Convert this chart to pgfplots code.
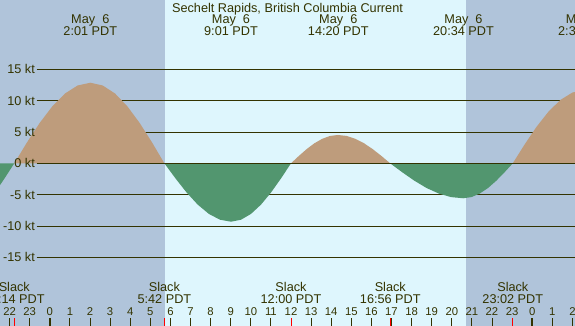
\documentclass[border=0pt]{standalone}
\usepackage{pgfplots}
\pgfplotsset{compat=1.18}
\usepackage{fontspec}
\setmainfont{Liberation Sans}
\definecolor{night}{RGB}{176,196,218}
\definecolor{day}{RGB}{222,246,253}
\definecolor{flood}{RGB}{190,156,124}
\definecolor{ebb}{RGB}{82,150,111}
\definecolor{ink}{RGB}{51,51,0}
\begin{document}
\begin{tikzpicture}[x=1pt,y=1pt]
\useasboundingbox (0,0) rectangle (575,326);
\clip (0,0) rectangle (575,326);
\begin{axis}[
 at={(0,0)}, anchor=south west, scale only axis, width=575pt, height=326pt,
 xmin=-2.478, xmax=26.13, ymin=-25.96, ymax=26.06,
 axis line style={draw=none}, axis on top,
 ytick=\empty, xtick={-2,-1,...,26},
 xticklabels={22,23,0,1,2,3,4,5,6,7,8,9,10,11,12,13,14,15,16,17,18,19,20,21,22,23,0,1,2},
 xtick pos=left, tick align=inside, major tick length=8pt,
 major tick style={ink, line width=0.9pt},
 xticklabel style={anchor=base, yshift=10.3pt, text=ink, font=\fontsize{11.3}{12}\selectfont, inner sep=0pt},
 extra x ticks={-1.767,5.7,12,16.933,23.033}, extra x tick labels={},
 extra x tick style={major tick style={red, line width=1pt}},
]
% backgrounds
\fill[night] (axis cs:-3,-27) rectangle (axis cs:5.73,27);
\fill[day] (axis cs:5.73,-27) rectangle (axis cs:20.70,27);
\fill[night] (axis cs:20.70,-27) rectangle (axis cs:27,27);
% grid lines
\addplot[ink, line width=0.9pt] coordinates {(-0.652,15) (26.5,15)};
\addplot[ink, line width=0.9pt] coordinates {(-0.652,10) (26.5,10)};
\addplot[ink, line width=0.9pt] coordinates {(-0.652,5) (26.5,5)};
\addplot[ink, line width=0.9pt] coordinates {(-0.652,-5) (26.5,-5)};
\addplot[ink, line width=0.9pt] coordinates {(-0.652,-10) (26.5,-10)};
\addplot[ink, line width=0.9pt] coordinates {(-0.652,-15) (26.5,-15)};
% ebb before
\addplot[fill=ebb, draw=none] coordinates {(-2.6,0) (-2.6,-4.05) (-2.478,-3.48) (-2.2,-2.15) (-2.0,-1.16) (-1.767,0)};
% flood 1
\addplot[fill=flood, draw=none] coordinates {(-1.767,0) (-1.136,3.33) (-0.506,6.43) (0.125,9.09) (0.756,11.14) (1.386,12.42) (2.017,12.86)
 (2.631,12.42) (3.245,11.14) (3.859,9.09) (4.472,6.43) (5.086,3.33) (5.70,0)};
% ebb 1
\addplot[fill=ebb, draw=none] coordinates {(5.70,0) (6.253,-2.41) (6.806,-4.66) (7.358,-6.59) (7.911,-8.07) (8.464,-9.00) (9.017,-9.32)
 (9.514,-9.00) (10.011,-8.07) (10.509,-6.59) (11.006,-4.66) (11.503,-2.41) (12.0,0)};
% flood 2
\addplot[fill=flood, draw=none] coordinates {(12.0,0) (12.389,1.17) (12.778,2.26) (13.167,3.20) (13.556,3.91) (13.944,4.37) (14.333,4.52)
 (14.767,4.37) (15.2,3.91) (15.633,3.20) (16.067,2.26) (16.5,1.17) (16.933,0)};
% ebb 2
\addplot[fill=ebb, draw=none] coordinates {(16.933,0) (17.539,-1.44) (18.144,-2.79) (18.750,-3.95) (19.356,-4.83) (19.961,-5.39) (20.567,-5.58)
 (20.978,-5.39) (21.389,-4.83) (21.800,-3.95) (22.211,-2.79) (22.622,-1.44) (23.033,0)};
% flood 3
\addplot[fill=flood, draw=none] coordinates {(23.033,0) (23.628,3.03) (24.222,5.85) (24.817,8.27) (25.411,10.13) (26.006,11.30) (26.6,11.7) (26.6,0)};
% zero line
\addplot[ink, line width=0.9pt] coordinates {(-0.652,0) (26.5,0)};
\end{axis}
% midnight ticks
\draw[ink, line width=2.3pt] (49.8,0) -- (49.8,7.7);
\draw[ink, line width=2.3pt] (532.2,0) -- (532.2,7.7);
\begin{scope}[every node/.style={text=ink, inner sep=0pt, font=\fontsize{12.7}{13}\selectfont}]
% y labels
\node[anchor=east] at (35,256.7) {15 kt};
\node[anchor=east] at (35,225.4) {10 kt};
\node[anchor=east] at (35,194.0) {5 kt};
\node[anchor=east] at (35,162.7) {0 kt};
\node[anchor=east] at (35,131.4) {-5 kt};
\node[anchor=east] at (35,100.0) {-10 kt};
\node[anchor=east] at (35,68.7) {-15 kt};
% title
\node[anchor=base] at (287.5,313.7) {Sechelt Rapids, British Columbia Current};
% top labels
\node[anchor=base] at (90.3,302) {May\ \ 6};
\node[anchor=base] at (90.3,290.3) {2:01 PDT};
\node[anchor=base] at (231,302) {May\ \ 6};
\node[anchor=base] at (231,290.3) {9:01 PDT};
\node[anchor=base] at (338.3,302) {May\ \ 6};
\node[anchor=base] at (338.3,290.3) {14:20 PDT};
\node[anchor=base] at (463.5,302) {May\ \ 6};
\node[anchor=base] at (463.5,290.3) {20:34 PDT};
\node[anchor=base] at (585,302) {May\ \ 6};
\node[anchor=base] at (585,290.3) {2:38 PDT};
% slack labels
\node[anchor=base] at (14.3,34.3) {Slack};
\node[anchor=base] at (14.3,22) {22:14 PDT};
\node[anchor=base] at (164.4,34.3) {Slack};
\node[anchor=base] at (164.4,22) {5:42 PDT};
\node[anchor=base] at (291,34.3) {Slack};
\node[anchor=base] at (291,22) {12:00 PDT};
\node[anchor=base] at (390.3,34.3) {Slack};
\node[anchor=base] at (390.3,22) {16:56 PDT};
\node[anchor=base] at (512.8,34.3) {Slack};
\node[anchor=base] at (512.8,22) {23:02 PDT};
\end{scope}
\end{tikzpicture}
\end{document}
